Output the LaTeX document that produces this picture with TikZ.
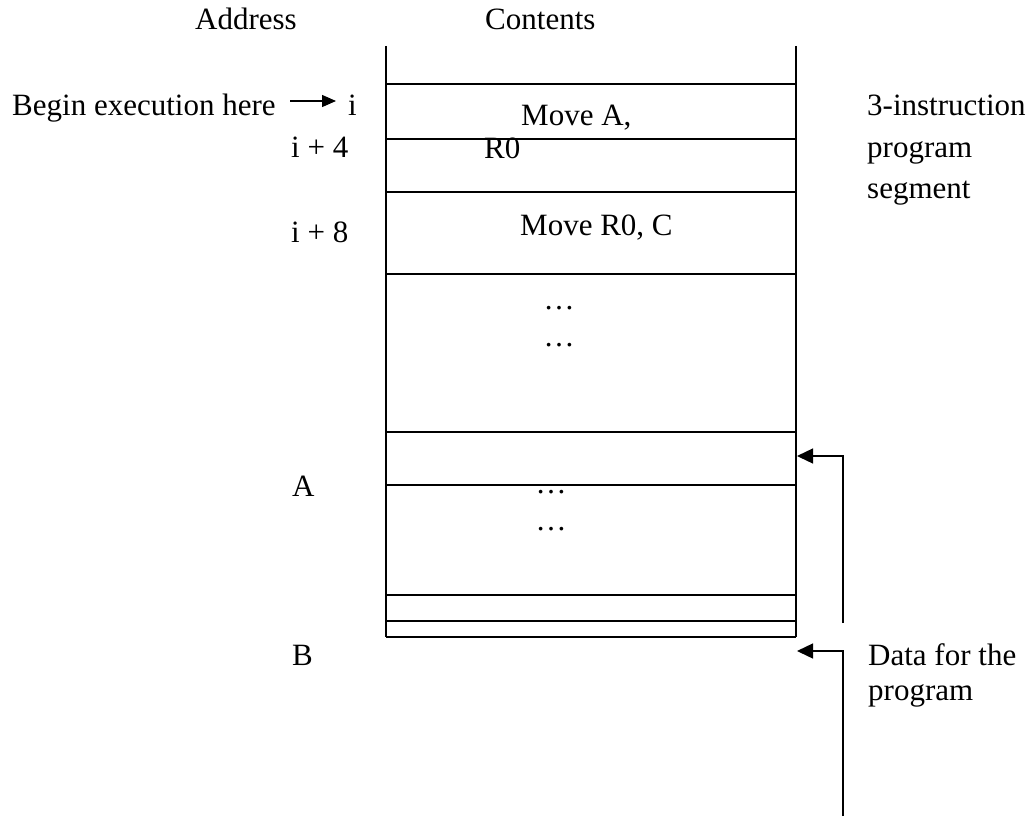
\documentclass[tikz,border=0pt]{standalone}
\usepackage{fontspec}
\setmainfont{Liberation Serif}
\usetikzlibrary{arrows.meta}
\begin{document}
\begin{tikzpicture}[x=1pt,y=-1pt,
  lbl/.style={anchor=base west,inner sep=0pt,font=\fontsize{31}{37}\selectfont},
  dots/.style={anchor=base,inner sep=0pt,font=\fontsize{31}{37}\selectfont},
  rule/.style={line width=1.1pt,black},
  ptr/.style={line width=1.4pt,-{Triangle[length=16pt,width=15pt]}},
  beginptr/.style={line width=1.4pt,-{Triangle[length=14pt,width=12pt]}}]
\useasboundingbox (0,0) rectangle (1032,816);
% memory column
\draw[rule] (386,46) -- (386,637);
\draw[rule] (796,46) -- (796,637);
\foreach \yy in {84,139,192,274,432,485,595,621,637}
  \draw[rule] (386,\yy) -- (796,\yy);
% headings
\node[lbl] (haddr) at (195,30) {Address};
\node[lbl] (hcont) at (485,30) {Contents};
% left side
\node[lbl] (begin) at (12,115) {Begin execution here};
\node[lbl] (ai) at (348,115) {i};
\node[lbl] (ai4) at (291,157) {i + 4};
\node[lbl] (ai8) at (291,242) {i + 8};
\node[lbl] (aA) at (292,496) {A};
\node[lbl] (aB) at (292,665) {B};
% contents
\node[lbl] (c1) at (521,125) {Move A,};
\node[lbl] (c1b) at (484,158) {R0};
\node[lbl] (c2) at (520,235) {Move R0, C};
\node[dots] (d1) at (559,309) {…};
\node[dots] (d2) at (559,346) {…};
\node[dots] (d3) at (551,493) {…};
\node[dots] (d4) at (551,530) {…};
% right labels
\node[lbl] (r1) at (867,115) {3-instruction};
\node[lbl] (r2) at (867,157) {program};
\node[lbl] (r3) at (867,198) {segment};
\node[lbl] (r4) at (868,665) {Data for the};
\node[lbl] (r5) at (868,700) {program};
% arrows
\coordinate (bs) at (290,101);
\coordinate (bt) at (336,101);
\draw[beginptr] (bs) -- (bt);
\coordinate (p1s) at (843,623);
\coordinate (p1c) at (843,456);
\coordinate (p1t) at (797,456);
\draw[ptr] (p1s) -- (p1c) -- (p1t);
\coordinate (p2s) at (843,816);
\coordinate (p2c) at (843,651);
\coordinate (p2t) at (797,651);
\draw[ptr] (p2s) -- (p2c) -- (p2t);
\end{tikzpicture}
\end{document}
